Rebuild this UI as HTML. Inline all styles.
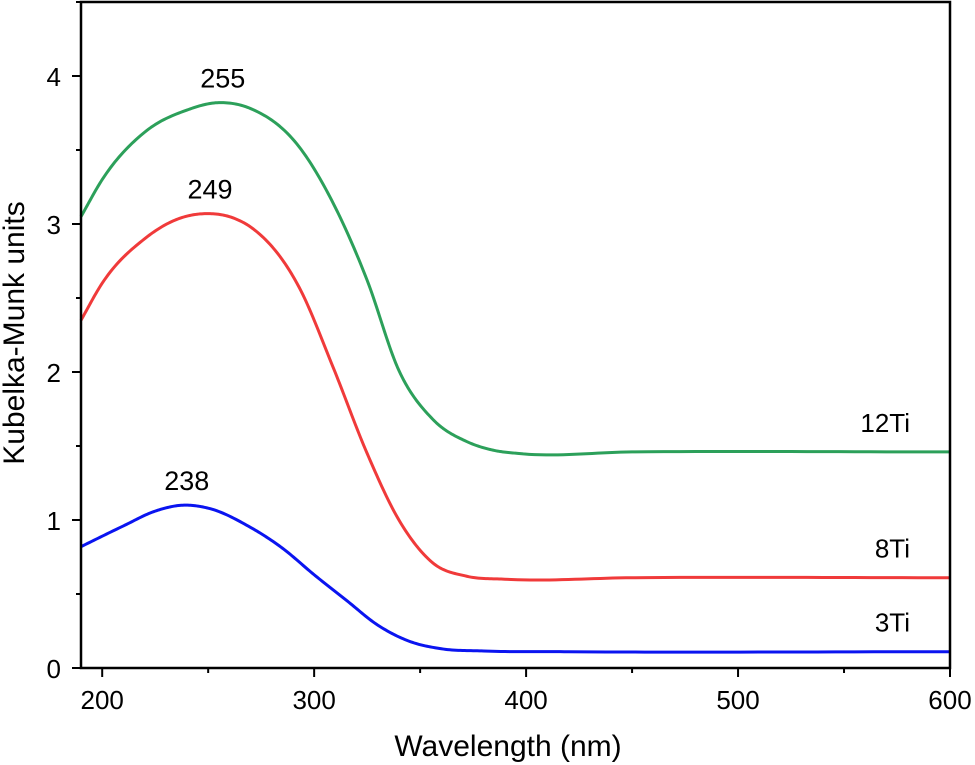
<!DOCTYPE html>
<html><head><meta charset="utf-8"><style>
body{margin:0;background:#fff}
svg{display:block;font-family:"Liberation Sans",Arial,sans-serif}
</style></head><body>
<svg id="chart" width="975" height="765" viewBox="0 0 975 765">
<g id="plot"></g>
</svg>
<script>
const xTicks=[200,300,400,500,600];
const yTicks=[0,1,2,3,4];
const wl12=[190,200,220,240,255,270,293,309,325,340,356,372,385,396,450,600];
const km12=[3.05,3.3,3.62,3.77,3.82,3.78,3.52,3.14,2.62,2.01,1.68,1.53,1.47,1.45,1.46,1.46];
const wl8=[190,200,220,235,249,262,270,293,309,325,340,356,372,390,450,600];
const km8=[2.35,2.6,2.9,3.03,3.07,3.04,2.98,2.57,2.03,1.45,1.0,0.71,0.62,0.60,0.61,0.61];
const wl3=[190,210,225,238,250,270,285,300,315,330,345,360,380,420,600];
const km3=[0.82,0.96,1.06,1.1,1.08,0.95,0.81,0.63,0.46,0.29,0.18,0.13,0.115,0.11,0.11];
const series=[
 {name:'12Ti',wl:wl12,km:km12,color:'#2ca05a',peak:'255',pw:255,pk:3.82,lab:[1.46]},
 {name:'8Ti',wl:wl8,km:km8,color:'#f03a3a',peak:'249',pw:249,pk:3.07,lab:[0.61]},
 {name:'3Ti',wl:wl3,km:km3,color:'#0a14f0',peak:'238',pw:238,pk:1.10,lab:[0.11]}
];
const L=81,R=950,T=2,B=668,xmin=190,xmax=600,ymin=0,ymax=4.5;
const sx=v=>L+(v-xmin)/(xmax-xmin)*(R-L);
const sy=v=>B-(v-ymin)/(ymax-ymin)*(B-T);
const NS='http://www.w3.org/2000/svg';
const g=document.getElementById('plot');
function mk(t,a,p){const e=document.createElementNS(NS,t);for(const k in a)e.setAttribute(k,a[k]);(p||g).appendChild(e);return e;}
function path(xs,ys){
 const n=xs.length,m=[];
 for(let i=0;i<n;i++){
  if(i==0)m.push((ys[1]-ys[0])/(xs[1]-xs[0]));
  else if(i==n-1)m.push((ys[n-1]-ys[n-2])/(xs[n-1]-xs[n-2]));
  else{const d0=(ys[i]-ys[i-1])/(xs[i]-xs[i-1]),d1=(ys[i+1]-ys[i])/(xs[i+1]-xs[i]);
   const h0=xs[i]-xs[i-1],h1=xs[i+1]-xs[i];m.push((d0*h1+d1*h0)/(h0+h1));}
 }
 let d='';
 for(let i=0;i<n-1;i++){const h=xs[i+1]-xs[i];
  for(let k=0;k<=20;k++){if(i>0&&k==0)continue;const t=k/20;
   const h00=2*t*t*t-3*t*t+1,h10=t*t*t-2*t*t+t,h01=-2*t*t*t+3*t*t,h11=t*t*t-t*t;
   const y=h00*ys[i]+h10*h*m[i]+h01*ys[i+1]+h11*h*m[i+1];
   d+=(d?'L':'M')+sx(xs[i]+t*h).toFixed(2)+','+sy(y).toFixed(2);}}
 return d;}
series.forEach(s=>{
 const e=mk('path',{d:path(s.wl,s.km),fill:'none',stroke:s.color,'stroke-width':3,'stroke-linejoin':'round'});
 
 
 const t=mk('text',{x:sx(s.pw)+4,y:sy(s.pk)-15,'font-size':27,'text-anchor':'middle'});t.textContent=s.peak;
 
 
 const l=mk('text',{x:910,y:sy(s.lab[0])-20,'font-size':26,'text-anchor':'end'});l.textContent=s.name;
 
 
});
const fr=mk('rect',{x:L,y:T,width:R-L,height:B-T,fill:'none',stroke:'#000','stroke-width':2.5});


xTicks.forEach(v=>{mk('line',{x1:sx(v),x2:sx(v),y1:B,y2:B+9,stroke:'#000','stroke-width':2});
 if(v<600)mk('line',{x1:sx(v+50),x2:sx(v+50),y1:B,y2:B+5,stroke:'#000','stroke-width':2});
 const t=mk('text',{x:sx(v),y:B+41,'font-size':26,'text-anchor':'middle'});t.textContent=v;
 
 });
yTicks.forEach(v=>{mk('line',{x1:L-9,x2:L,y1:sy(v),y2:sy(v),stroke:'#000','stroke-width':2});
 mk('line',{x1:L-5,x2:L,y1:sy(v+0.5),y2:sy(v+0.5),stroke:'#000','stroke-width':2});
 const t=mk('text',{x:L-20,y:sy(v)+10,'font-size':26,'text-anchor':'end'});t.textContent=v;
 
 });
const xt=mk('text',{x:508,y:756,'font-size':30,'text-anchor':'middle'});xt.textContent='Wavelength (nm)';


const yt=mk('text',{x:0,y:0,'font-size':30,'text-anchor':'middle',transform:'translate(24,333) rotate(-90)'});yt.textContent='Kubelka-Munk units';


</script>
</body></html>
